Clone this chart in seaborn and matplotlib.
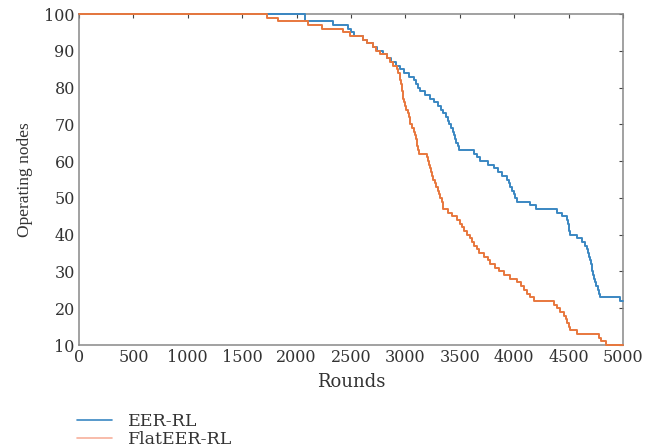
import numpy as np
import pandas as pd
import seaborn as sns
import matplotlib.pyplot as plt
from matplotlib.lines import Line2D

# EER-RL step curve (round, operating nodes)
eer_rounds = [0, 2080, 2335, 2470, 2500, 2530, 2610, 2650, 2700, 2740, 2790, 2830, 2870,
              2910, 2950, 2990, 3030, 3075, 3100, 3120, 3136, 3180, 3228, 3260, 3300,
              3330, 3350, 3370, 3390, 3400, 3420, 3440, 3450, 3460, 3470, 3480, 3490,
              3627, 3660, 3690, 3760, 3812, 3850, 3890, 3934, 3950, 3965, 3980, 3995,
              4010, 4027, 4150, 4200, 4394, 4440, 4486, 4495, 4500, 4505, 4510, 4580,
              4620, 4650, 4670, 4680, 4690, 4700, 4710, 4715, 4720, 4725, 4731, 4740,
              4755, 4770, 4780, 4793, 4977, 5000]
eer_nodes = [100, 98, 97, 96, 95, 94, 93, 92, 91, 90, 89, 88, 87,
             86, 85, 84, 83, 82, 81, 80, 79, 78, 77, 76, 75,
             74, 73, 72, 71, 70, 69, 68, 67, 66, 65, 64, 63,
             62, 61, 60, 59, 58, 57, 56, 55, 54, 53, 52, 51,
             50, 49, 48, 47, 46, 45, 44, 43, 42, 41, 40, 39,
             38, 37, 36, 35, 34, 33, 32, 31, 30, 29, 28, 27,
             26, 25, 24, 23, 22, 22]

# FlatEER-RL step curve
flat_rounds = [0, 1730, 1830, 2105, 2233, 2427, 2490, 2610, 2650, 2700, 2733, 2770, 2830,
               2860, 2890, 2920, 2935, 2950, 2955, 2960, 2965, 2970, 2975, 2980, 2990,
               3000, 3010, 3020, 3030, 3040, 3045, 3060, 3075, 3090, 3100, 3105, 3110,
               3115, 3125, 3197, 3205, 3215, 3225, 3235, 3245, 3258, 3270, 3285, 3300,
               3310, 3320, 3335, 3345, 3350, 3390, 3430, 3473, 3500, 3520, 3540, 3565,
               3590, 3610, 3630, 3657, 3680, 3720, 3760, 3780, 3820, 3860, 3903, 3960,
               4026, 4060, 4090, 4120, 4149, 4180, 4363, 4390, 4420, 4455, 4475, 4490,
               4505, 4517, 4578, 4778, 4800, 4840, 5000]
flat_nodes = [100, 99, 98, 97, 96, 95, 94, 93, 92, 91, 90, 89, 88,
              87, 86, 85, 84, 83, 82, 81, 80, 79, 78, 77, 76,
              75, 74, 73, 72, 71, 70, 69, 68, 67, 66, 65, 64,
              63, 62, 61, 60, 59, 58, 57, 56, 55, 54, 53, 52,
              51, 50, 49, 48, 47, 46, 45, 44, 43, 42, 41, 40,
              39, 38, 37, 36, 35, 34, 33, 32, 31, 30, 29, 28,
              27, 26, 25, 24, 23, 22, 21, 20, 19, 18, 17, 16,
              15, 14, 13, 12, 11, 10, 10]

x_ticks = list(range(0, 5001, 500))
y_ticks = list(range(10, 101, 10))

sns.set_style("white")
plt.rcParams['font.family'] = ['DejaVu Serif']

blue = "#3a87c2"
orange = "#e8773d"
txt = "#333333"

fig = plt.figure(figsize=(6.46, 4.48), dpi=100)
ax = fig.add_axes([0.1223, 0.2299, 0.842, 0.7388])

df_eer = pd.DataFrame({"Rounds": eer_rounds, "Nodes": eer_nodes})
df_flat = pd.DataFrame({"Rounds": flat_rounds, "Nodes": flat_nodes})
sns.lineplot(data=df_eer, x="Rounds", y="Nodes", ax=ax, color=blue, lw=1.4,
             drawstyle="steps-post", estimator=None, zorder=3, clip_on=False)
sns.lineplot(data=df_flat, x="Rounds", y="Nodes", ax=ax, color=orange, lw=1.4,
             drawstyle="steps-post", estimator=None, zorder=3, clip_on=False)

ax.set_xlim(0, 5000)
ax.set_ylim(10, 100)
ax.set_xticks(x_ticks)
ax.set_yticks(y_ticks)
ax.tick_params(direction="in", top=True, right=True, length=3, width=0.8,
               colors="#444444", labelcolor=txt, labelsize=11.5, pad=3)
for s in ax.spines.values():
    s.set_color("#888888")
    s.set_linewidth(1.1)

ax.set_xlabel("Rounds", fontsize=13, color=txt, labelpad=5)
ax.set_ylabel("Operating nodes", fontsize=12.5, color=txt, labelpad=8,
              family=['Liberation Serif', 'DejaVu Serif'])

handles = [Line2D([], [], color=blue, lw=1.2), Line2D([], [], color="#f7b09c", lw=1.2)]
fig.legend(handles, ["EER-RL", "FlatEER-RL"], loc="upper left",
           bbox_to_anchor=(0.109, 0.093), frameon=False, fontsize=12.5,
           handlelength=2.0, labelspacing=0.02, handletextpad=0.9, labelcolor=txt,
           borderaxespad=0)

fig.savefig("out.png", dpi=100)
